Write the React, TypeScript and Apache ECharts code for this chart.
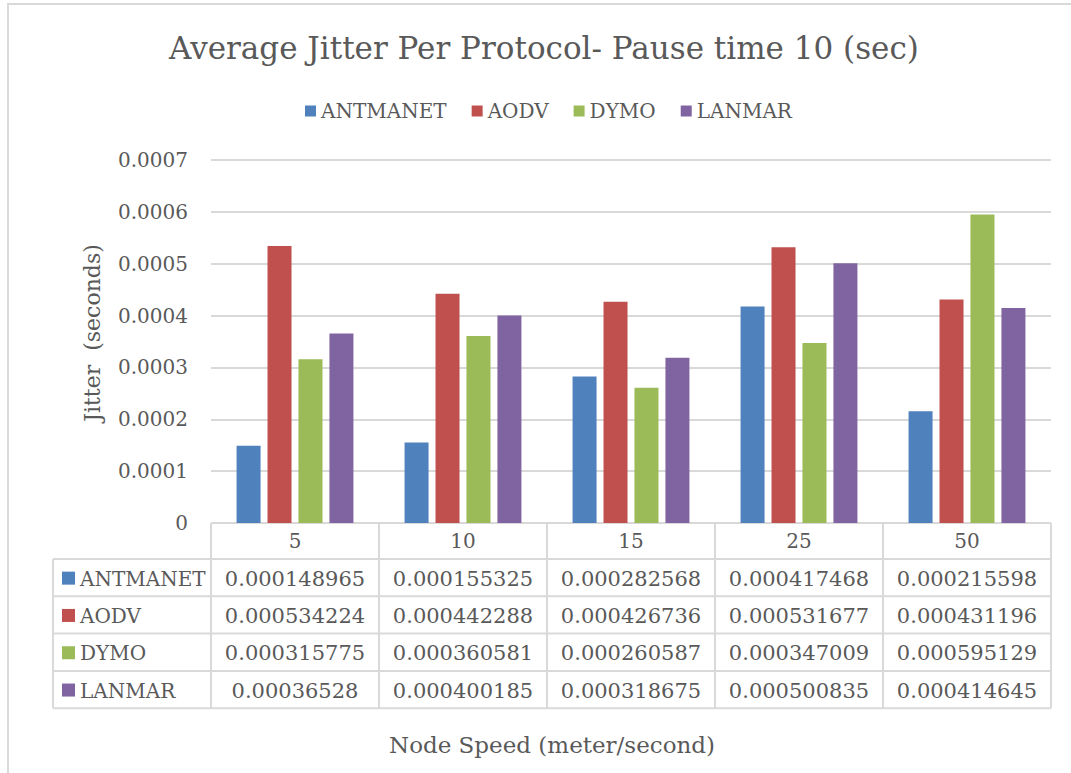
import React, { useEffect, useRef } from "react";
import * as echarts from "echarts";

const titleText = "Average Jitter Per Protocol- Pause time 10 (sec)";
const xAxisTitle = "Node Speed (meter/second)";
const yAxisTitle = "Jitter  (seconds)";
const categories = ["5", "10", "15", "25", "50"];
const seriesNames = ["ANTMANET", "AODV", "DYMO", "LANMAR"];
const antmanet = [0.000148965, 0.000155325, 0.000282568, 0.000417468, 0.000215598];
const aodv = [0.000534224, 0.000442288, 0.000426736, 0.000531677, 0.000431196];
const dymo = [0.000315775, 0.000360581, 0.000260587, 0.000347009, 0.000595129];
const lanmar = [0.00036528, 0.000400185, 0.000318675, 0.000500835, 0.000414645];
const seriesValues = [antmanet, aodv, dymo, lanmar];
const yMin = 0;
const yMax = 0.0007;
const yInterval = 0.0001;
const colors = ["#4F81BD", "#C0504D", "#9BBB59", "#8064A2"];

const FONT = '"DejaVu Serif", "Liberation Serif", serif';
const TEXT = "#595959";
const LINE = "#D9D9D9";

// layout
const W = 1071;
const H = 773;
const GRID_L = 211;
const GRID_R = 1051;
const GRID_T = 160;
const GRID_B = 523;
const TABLE_L = 53;
const HEADER_H = 36;
const ROW_H = 37.3;

function buildTable() {
  const els: any[] = [];
  const nCat = categories.length;
  const colW = (GRID_R - GRID_L) / nCat;
  const headerBottom = GRID_B + HEADER_H;
  const tableBottom = headerBottom + ROW_H * seriesNames.length;
  const line = (x1: number, y1: number, x2: number, y2: number) => ({
    type: "line",
    shape: { x1, y1, x2, y2 },
    style: { stroke: LINE, lineWidth: 2 },
    silent: true,
  });
  els.push(line(GRID_L, GRID_B, GRID_R, GRID_B));
  for (let r = 0; r <= seriesNames.length; r++) {
    const y = headerBottom + r * ROW_H;
    els.push(line(TABLE_L, y, GRID_R, y));
  }
  els.push(line(TABLE_L, headerBottom, TABLE_L, tableBottom));
  for (let c = 0; c <= nCat; c++) {
    const x = GRID_L + c * colW;
    els.push(line(x, GRID_B, x, tableBottom));
  }
  seriesNames.forEach((name, r) => {
    const cy = headerBottom + r * ROW_H + ROW_H / 2;
    els.push({
      type: "rect",
      shape: { x: 62, y: cy - 6, width: 13, height: 13 },
      style: { fill: colors[r] },
      silent: true,
    });
    els.push({
      type: "text",
      x: 80,
      y: cy + 1,
      style: {
        text: name,
        fill: TEXT,
        font: `20px ${FONT}`,
        align: "left",
        verticalAlign: "middle",
        textAlign: "left",
        textVerticalAlign: "middle",
      },
      silent: true,
    });
    seriesValues[r].forEach((v, c) => {
      els.push({
        type: "text",
        x: GRID_L + c * colW + colW / 2,
        y: cy + 1,
        style: {
          text: String(v),
          fill: TEXT,
          font: `21px ${FONT}`,
          align: "center",
          verticalAlign: "middle",
          textAlign: "center",
          textVerticalAlign: "middle",
        },
        silent: true,
      });
    });
  });
  // x axis title
  els.push({
    type: "text",
    x: (TABLE_L + GRID_R) / 2,
    y: 745,
    style: {
      text: xAxisTitle,
      fill: TEXT,
      font: `23px ${FONT}`,
      align: "center",
      verticalAlign: "middle",
      textAlign: "center",
      textVerticalAlign: "middle",
    },
    silent: true,
  });
  // y axis title
  els.push({
    type: "text",
    x: 92,
    y: 333,
    rotation: Math.PI / 2,
    style: {
      text: yAxisTitle,
      fill: TEXT,
      font: `22px ${FONT}`,
      align: "center",
      verticalAlign: "middle",
      textAlign: "center",
      textVerticalAlign: "middle",
    },
    silent: true,
  });
  // outer border
  els.push({
    type: "rect",
    shape: { x: 8, y: 4, width: W + 20, height: H + 20 },
    style: { fill: "none", stroke: LINE, lineWidth: 2 },
    silent: true,
  });
  return els;
}

export default function App() {
  const ref = useRef<HTMLDivElement>(null);
  useEffect(() => {
    if (!ref.current) return;
    const chart = echarts.init(ref.current, undefined, { renderer: "svg" });
    chart.setOption({
      animation: false,
      backgroundColor: "#ffffff",
      textStyle: { fontFamily: FONT, color: TEXT },
      title: {
        text: titleText,
        left: 164,
        top: 27,
        textStyle: { fontFamily: FONT, fontSize: 31, fontWeight: "normal", color: TEXT },
      },
      legend: {
        data: seriesNames,
        top: 96,
        left: 300,
        icon: "rect",
        itemWidth: 11,
        itemHeight: 11,
        itemGap: 25,
        textStyle: { fontFamily: FONT, fontSize: 20, color: TEXT },
      },
      grid: {
        left: GRID_L,
        right: W - GRID_R,
        top: GRID_T,
        bottom: H - GRID_B,
        containLabel: false,
      },
      xAxis: {
        type: "category",
        data: categories,
        axisLine: { show: false },
        axisTick: { show: false },
        axisLabel: { margin: 8, fontFamily: FONT, fontSize: 20, color: TEXT },
      },
      yAxis: {
        type: "value",
        min: yMin,
        max: yMax,
        interval: yInterval,
        axisLine: { show: false },
        axisTick: { show: false },
        splitLine: { lineStyle: { color: LINE, width: 2 } },
        axisLabel: {
          margin: 23,
          fontFamily: FONT,
          fontSize: 20,
          color: TEXT,
          formatter: (v: number) => (v === 0 ? "0" : v.toFixed(4)),
        },
      },
      series: seriesNames.map((name, i) => ({
        name,
        type: "bar",
        data: seriesValues[i],
        barWidth: 24,
        barGap: "29%",
        itemStyle: { color: colors[i] },
      })),
      graphic: { elements: buildTable() },
    });
    return () => chart.dispose();
  }, []);
  return (
    <div
      ref={ref}
      style={{ position: "fixed", left: 0, top: 0, width: W, height: H, background: "#fff" }}
    />
  );
}
